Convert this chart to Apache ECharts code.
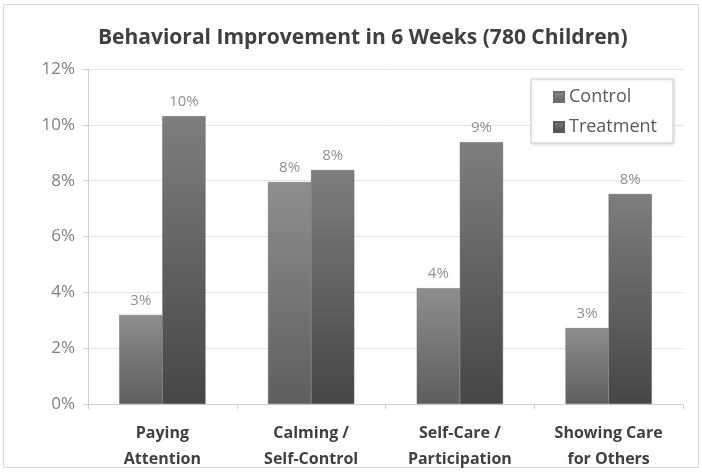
<!DOCTYPE html>
<html><head><meta charset="utf-8">
<script src="https://cdn.jsdelivr.net/npm/echarts@6/dist/echarts.min.js"></script>
<style>html,body{margin:0;padding:0;background:#fff}#c{width:702px;height:472px}</style>
</head><body><div id="c"></div>
<script>
const categories = ['Paying\nAttention', 'Calming /\nSelf-Control', 'Self-Care /\nParticipation', 'Showing Care\nfor Others'];
const controlValues = [3.19, 7.95, 4.15, 2.72];
const treatmentValues = [10.31, 8.38, 9.38, 7.52];
const yTicks = [0, 2, 4, 6, 8, 10, 12];
const seriesNames = ['Control', 'Treatment'];

const chart = echarts.init(document.getElementById('c'), null, {renderer: 'canvas'});
const grad = (a, b) => new echarts.graphic.LinearGradient(0, 0, 0, 1, [{offset: 0, color: a}, {offset: 1, color: b}]);
const font = '"Open Sans", Lato, sans-serif';
chart.setOption({
  animation: false,
  backgroundColor: '#fff',
  graphic: [{type: 'rect', shape: {x: 3.5, y: 4.5, width: 695, height: 463}, style: {fill: 'none', stroke: '#d9d9d9', lineWidth: 1}, silent: true}],
  title: {
    text: 'Behavioral Improvement in 6 Weeks (780 Children)',
    left: 93, top: 23,
    textStyle: {fontFamily: font, fontSize: 21, fontWeight: 'bold', color: '#404040'}
  },
  legend: {
    data: seriesNames,
    orient: 'vertical',
    right: 29, top: 79,
    padding: [9, 16, 7, 22],
    itemGap: 12,
    itemWidth: 10, itemHeight: 10,
    icon: 'rect',
    borderColor: '#d0d0d0', borderWidth: 1,
    backgroundColor: '#fff',
    shadowColor: 'rgba(0,0,0,0.15)', shadowBlur: 3, shadowOffsetX: 1, shadowOffsetY: 1,
    textStyle: {fontFamily: font, fontSize: 18, color: '#595959'}
  },
  grid: {left: 88, right: 19, top: 69, bottom: 68, containLabel: false},
  xAxis: {
    type: 'category', data: categories,
    axisLine: {lineStyle: {color: '#d0d0d0'}},
    axisTick: {show: true, length: 5, lineStyle: {color: '#d0d0d0'}},
    axisLabel: {fontFamily: font, fontSize: 16, fontWeight: 'bold', color: '#404040', lineHeight: 26, margin: 16}
  },
  yAxis: {
    type: 'value', min: 0, max: 12, interval: 2,
    axisLine: {show: true, lineStyle: {color: '#d0d0d0'}},
    axisTick: {show: true, length: 5, lineStyle: {color: '#d0d0d0'}},
    splitLine: {lineStyle: {color: '#e4e4e4'}},
    axisLabel: {fontFamily: font, fontSize: 17, color: '#808080', margin: 13,
      formatter: v => yTicks.includes(v) ? v + '%' : ''}
  },
  series: [
    {name: 'Control', type: 'bar', data: controlValues, barGap: '0%', barCategoryGap: '42%',
     itemStyle: {color: grad('#8e8e8e', '#5e5e5e'), borderColor: '#6e6e6e', borderWidth: 0.5},
     label: {show: true, position: 'top', distance: 7, fontFamily: font, fontSize: 15, color: '#909090', formatter: p => Math.round(p.value) + '%'}},
    {name: 'Treatment', type: 'bar', data: treatmentValues,
     itemStyle: {color: grad('#7e7e7e', '#464646'), borderColor: '#5a5a5a', borderWidth: 0.5},
     label: {show: true, position: 'top', distance: 7, fontFamily: font, fontSize: 15, color: '#909090', formatter: p => Math.round(p.value) + '%'}}
  ]
});
</script></body></html>
